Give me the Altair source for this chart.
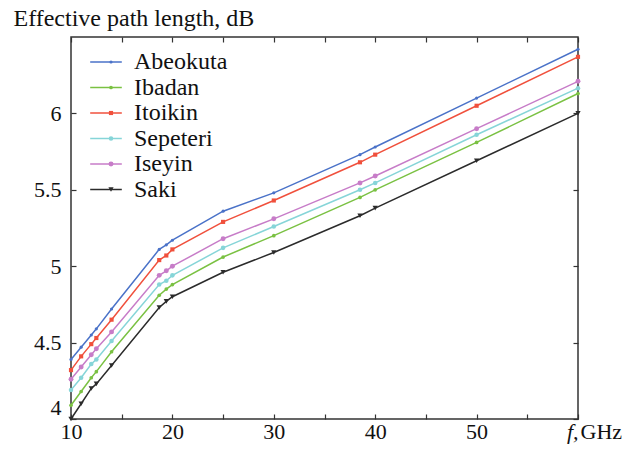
import altair as alt
import pandas as pd

FONT = "Liberation Serif"

freq = [10, 11, 12, 12.5, 14, 18.7, 19.4, 20, 25, 30, 38.5, 40, 50, 60]
sites = ["Abeokuta", "Ibadan", "Itoikin", "Sepeteri", "Iseyin", "Saki"]

abeokuta = [4.39, 4.47, 4.55, 4.59, 4.72, 5.11, 5.14, 5.17, 5.36, 5.48, 5.73, 5.78, 6.10, 6.42]
ibadan   = [4.09, 4.18, 4.27, 4.31, 4.44, 4.81, 4.85, 4.88, 5.06, 5.20, 5.45, 5.50, 5.81, 6.13]
itoikin  = [4.32, 4.41, 4.49, 4.53, 4.65, 5.04, 5.07, 5.11, 5.29, 5.43, 5.68, 5.73, 6.05, 6.37]
sepeteri = [4.19, 4.27, 4.36, 4.39, 4.51, 4.88, 4.905, 4.94, 5.12, 5.26, 5.50, 5.545, 5.86, 6.165]
iseyin   = [4.26, 4.34, 4.42, 4.46, 4.57, 4.94, 4.97, 5.00, 5.18, 5.31, 5.545, 5.59, 5.90, 6.21]
saki     = [4.00, 4.10, 4.20, 4.23, 4.35, 4.73, 4.77, 4.80, 4.96, 5.09, 5.33, 5.38, 5.69, 6.00]

colors = ["#4a72c8", "#7ac142", "#f0503c", "#86d5d8", "#c77cc8", "#2b2b2b"]
shapes = ["circle", "circle", "square", "circle", "circle", "triangle-down"]
sizes = [10, 28, 24, 28, 18, 34]

x_ticks = [10, 15, 20, 25, 30, 35, 40, 45, 50, 55, 60]
y_ticks = [4, 4.5, 5, 5.5, 6]

rows = []
for s, vals in zip(sites, [abeokuta, ibadan, itoikin, sepeteri, iseyin, saki]):
    for f, v in zip(freq, vals):
        rows.append({"site": s, "name": s, "f": f, "v": v})
df = pd.DataFrame(rows)

x_scale = alt.Scale(domain=[10, 60], nice=False, zero=False)
y_scale = alt.Scale(domain=[4, 6.5], nice=False, zero=False)

axis_common = dict(grid=False, domain=False, tickSize=5, offset=-5,
                   tickColor="#333", tickWidth=1.2)

x_bottom = alt.Axis(orient="bottom", values=x_ticks, labelFlush=False,
                    labelExpr="datum.value == 60 ? 'f,' : (datum.value % 10 == 0 ? datum.label : '')",
                    labelFontStyle={"condition": {"test": "datum.value == 60", "value": "italic"}, "value": "normal"},
                    labelAlign={"condition": {"test": "datum.value == 60", "value": "right"}, "value": "center"},
                    labelPadding=2, labelBaseline="top",
                    title="GHz", titleX=509, titleY=7, titleAlign="left", titleBaseline="top",
                    titleFontSize=22, **axis_common)
x_top = alt.Axis(orient="top", values=x_ticks, labels=False, title=None, **axis_common)
y_left = alt.Axis(orient="left", values=y_ticks, labelPadding=10, labelFlush=True,
                  format="~g",
                  title="Effective path length, dB", titleAngle=0, titleX=-63, titleY=-12,
                  titleAlign="left", titleBaseline="alphabetic", titleFontSize=24, **axis_common)
y_right = alt.Axis(orient="right", values=y_ticks, labels=False, title=None, **axis_common)

LY = 13
line_legend = alt.Legend(orient="none", legendX=23, legendY=LY, title=None,
                         padding=0, symbolType="M-2,0H2", symbolSize=250,
                         symbolStrokeWidth=1.5, labelFont=FONT, labelFontSize=24,
                         labelColor="#111", labelOffset=16, rowPadding=1.5)
mk_legend = alt.Legend(orient="none", legendX=28, legendY=LY, title=None,
                       padding=0, labelFont=FONT, labelFontSize=24, labelExpr="''",
                       labelColor="transparent", labelOffset=8, rowPadding=1.5,
                       symbolOpacity=1, symbolStrokeWidth=0)

lines = alt.Chart(df).mark_line(strokeWidth=1.5).encode(
    x=alt.X("f:Q", scale=x_scale, axis=x_bottom),
    y=alt.Y("v:Q", scale=y_scale, axis=y_left),
    color=alt.Color("name:N", scale=alt.Scale(range=colors),
                    sort=sites, legend=line_legend),
    order="f:Q",
)

points = alt.Chart(df).mark_point(filled=True, opacity=1, strokeWidth=0).encode(
    x=alt.X("f:Q", scale=x_scale, axis=x_top),
    y=alt.Y("v:Q", scale=y_scale, axis=y_right),
    fill=alt.Fill("site:N", scale=alt.Scale(domain=sites, range=colors), sort=sites, legend=mk_legend),
    shape=alt.Shape("site:N", scale=alt.Scale(domain=sites, range=shapes), sort=sites, legend=mk_legend),
    size=alt.Size("site:N", scale=alt.Scale(domain=sites, range=sizes), sort=sites, legend=mk_legend),
)

chart = alt.layer(lines, points).resolve_axis(x="independent", y="independent").properties(
    width=507, height=382,
    autosize=alt.AutoSizeParams(type="none"),
    padding={"left": 63, "top": 29, "right": 46, "bottom": 25},
).configure(font=FONT).configure_axis(
    labelFont=FONT, titleFont=FONT, labelFontSize=22, labelColor="#111",
    titleColor="#111", titleFontWeight="normal"
).configure_legend(labelFont=FONT).configure_view(stroke="#333", strokeWidth=1.5)

chart.save("out.html", embed_options={"renderer": "svg", "actions": False})
